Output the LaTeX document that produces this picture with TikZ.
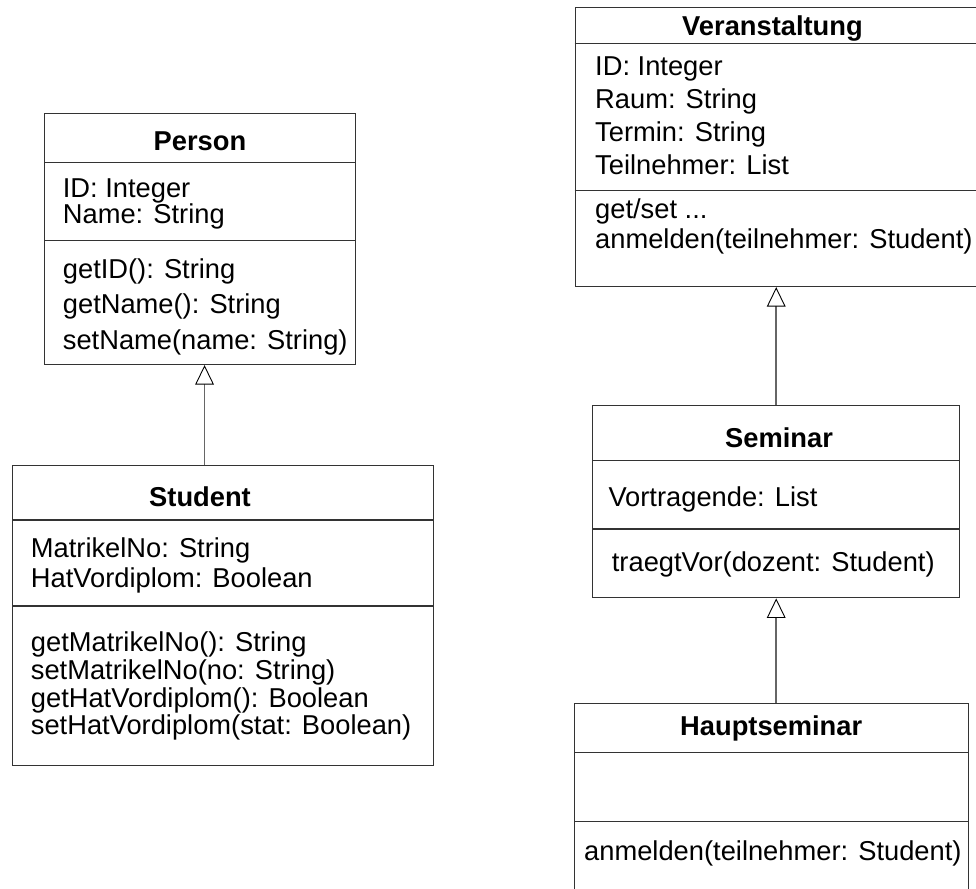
\documentclass[tikz,border=0pt]{standalone}
\usepackage{fontspec}
\setmainfont{Liberation Sans}
\usetikzlibrary{arrows.meta}

\tikzset{
  klasse/.style={draw=black!80, line width=1.1pt, anchor=north west, inner sep=0pt},
  trenn/.style={draw=black!80, line width=1.1pt},
  txt/.style={anchor=base west, inner sep=0pt, font=\fontsize{27.3}{27.3}\selectfont},
  titel/.style={anchor=base, inner sep=0pt, font=\fontsize{27.3}{27.3}\selectfont\bfseries},
  erbt/.style={draw=black!60, line width=1.5pt,
    -{Triangle[open, width=18.7pt, length=19.5pt, line width=0.9pt, color=black, fill=white]}}
}

\begin{document}
\begin{tikzpicture}[x=1pt, y=-1pt]
  \useasboundingbox (0,0) rectangle (976,888);

  \begin{scope}
    % Person
    \node[klasse, minimum width=311pt, minimum height=251.3pt] (person) at (44,112.7) {};
    \draw[trenn] (person.west |- 0,162.3) -- (person.east |- 0,162.3);
    \draw[trenn] (person.west |- 0,240.7) -- (person.east |- 0,240.7);

    \node[titel] (person-t) at (200,150) {Person};
    \node[txt] (person-a1) at (62.7,197) {ID: Integer};
    \node[txt] (person-a2) at (62.7,223.5) {Name: String};
    \node[txt] (person-m1) at (62.7,278) {getID(): String};
    \node[txt] (person-m2) at (62.7,313.5) {getName(): String};
    \node[txt] (person-m3) at (62.7,349) {setName(name: String)};

    % Student
    \node[klasse, minimum width=420.4pt, minimum height=300pt] (student) at (12.3,465) {};
    \draw[trenn] (student.west |- 0,520) -- (student.east |- 0,520);
    \draw[trenn] (student.west |- 0,606) -- (student.east |- 0,606);

    \node[titel] (student-t) at (200,506.7) {Student};
    \node[txt] (student-a1) at (30.7,557) {MatrikelNo: String};
    \node[txt] (student-a2) at (30.7,587) {HatVordiplom: Boolean};
    \node[txt] (student-m1) at (30.7,651) {getMatrikelNo(): String};
    \node[txt] (student-m2) at (30.7,679) {setMatrikelNo(no: String)};
    \node[txt] (student-m3) at (30.7,707) {getHatVordiplom(): Boolean};
    \node[txt] (student-m4) at (30.7,734) {setHatVordiplom(stat: Boolean)};

    \draw[erbt] ([xshift=4.5pt]person.south |- student.north) -- ([xshift=4.5pt]person.south);
  \end{scope}

  \begin{scope}
    % Veranstaltung
    \node[klasse, minimum width=400.8pt, minimum height=278.7pt] (veranstaltung) at (574.7,7.3) {};
    \draw[trenn] (veranstaltung.west |- 0,43.3) -- (veranstaltung.east |- 0,43.3);
    \draw[trenn] (veranstaltung.west |- 0,190.7) -- (veranstaltung.east |- 0,190.7);

    \node[titel] (veranstaltung-t) at (772.5,35.5) {Veranstaltung};
    \node[txt] (veranstaltung-a1) at (595,76) {ID: Integer};
    \node[txt] (veranstaltung-a2) at (595,108.7) {Raum: String};
    \node[txt] (veranstaltung-a3) at (595,141.3) {Termin: String};
    \node[txt] (veranstaltung-a4) at (595,174) {Teilnehmer: List};
    \node[txt] (veranstaltung-m1) at (595,218) {get/set ...};
    \node[txt] (veranstaltung-m2) at (595,248) {anmelden(teilnehmer: Student)};

    % Seminar
    \node[klasse, minimum width=366.7pt, minimum height=192.3pt] (seminar) at (592.3,405) {};
    \draw[trenn] (seminar.west |- 0,460.7) -- (seminar.east |- 0,460.7);
    \draw[trenn] (seminar.west |- 0,529) -- (seminar.east |- 0,529);

    \node[titel] (seminar-t) at (779,447.3) {Seminar};
    \node[txt] (seminar-a1) at (608.3,506) {Vortragende: List};
    \node[txt] (seminar-m1) at (611.7,571) {traegtVor(dozent: Student)};

    % Hauptseminar
    \node[klasse, minimum width=393.7pt, minimum height=195pt] (hauptseminar) at (574.3,702.7) {};
    \draw[trenn] (hauptseminar.west |- 0,752.7) -- (hauptseminar.east |- 0,752.7);
    \draw[trenn] (hauptseminar.west |- 0,821.7) -- (hauptseminar.east |- 0,821.7);

    \node[titel] (hauptseminar-t) at (771.2,735) {Hauptseminar};
    \node[txt] (hauptseminar-m1) at (584,860) {anmelden(teilnehmer: Student)};

    \draw[erbt] (seminar.north) -- (seminar.north |- veranstaltung.south);
    \draw[erbt] (hauptseminar.north -| seminar.south) -- (seminar.south);
  \end{scope}
\end{tikzpicture}
\end{document}
